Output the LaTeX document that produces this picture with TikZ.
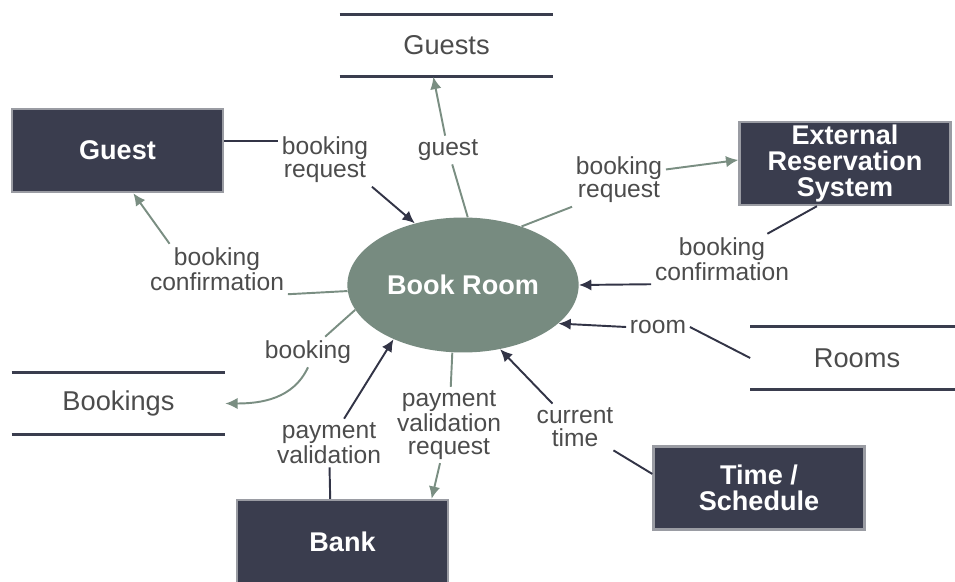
\documentclass[tikz,border=0pt]{standalone}
\usepackage{fontspec}
\setmainfont{Liberation Sans}
\usetikzlibrary{shapes.geometric,arrows.meta}
\definecolor{boxfill}{HTML}{3A3D4E}
\definecolor{boxrim}{HTML}{9A9CA3}
\definecolor{procfill}{HTML}{778B80}
\definecolor{greenflow}{HTML}{7A8E82}
\definecolor{darkflow}{HTML}{323446}
\definecolor{labeltext}{HTML}{4C4C4C}

\begin{document}
\begin{tikzpicture}[x=0.02cm,y=0.02cm,
    entity/.style={rectangle,fill=boxfill,draw=boxrim,line width=1.4pt,
      minimum width=4.22cm,minimum height=1.66cm,inner sep=0pt,align=center,
      text=white,font=\fontsize{15.4}{15}\selectfont\bfseries},
    process/.style={ellipse,fill=procfill,minimum width=3.48cm,minimum height=2.7cm,
      text=white,font=\fontsize{15.4}{15}\selectfont\bfseries},
    store/.style={minimum width=4.26cm,minimum height=1.24cm,inner sep=0pt,
      text=labeltext,font=\fontsize{15.5}{16}\selectfont},
    storeline/.style={draw=boxfill,line width=1.7pt},
    flowlabel/.style={text=labeltext,font=\fontsize{14}{13}\selectfont,align=center,inner sep=2pt},
    inflow/.style={draw=darkflow,line width=1.1pt},
    outflow/.style={draw=greenflow,line width=1.1pt},
    inarrow/.style={inflow,-{Latex[length=7pt,width=6.5pt]}},
    outarrow/.style={outflow,-{Latex[length=7pt,width=6.5pt]}}]
  \useasboundingbox (0,0) rectangle (955,581);

  \node[entity]  (guest)     at (117.5,430.5) {Guest};
  \node[entity]  (extsys)    at (845,417.5)   {External\\Reservation\\System};
  \node[entity]  (bank)      at (342.5,39.5)  {Bank};
  \node[entity]  (timesched) at (759,93)      {Time /\\Schedule};
  \node[process] (bookroom)  at (463,296)     {Book Room};
  \node[store]   (guests)    at (446.5,535.5) {Guests};
  \node[store]   (bookings)  at (118.5,177.5) {Bookings};
  \node[store]   (rooms)     at (857,223)     {Rooms};

  \foreach \s in {guests,bookings,rooms}
    \draw[storeline] (\s.north west) -- (\s.north east) (\s.south west) -- (\s.south east);

  \node[flowlabel] (reqin)      at (325,421) {booking\\request};
  \node[flowlabel] (guestout)   at (448,431) {guest};
  \node[flowlabel] (confout)    at (217,312) {booking\\confirmation};
  \node[flowlabel] (reqout)     at (619,401) {booking\\request};
  \node[flowlabel] (confin)     at (722,322) {booking\\confirmation};
  \node[flowlabel] (roomin)     at (658,254) {room};
  \node[flowlabel] (timein)     at (575,154) {current\\time};
  \node[flowlabel] (payreq)     at (449,156) {payment\\validation\\request};
  \node[flowlabel] (payin)      at (329,138) {payment\\validation};
  \node[flowlabel] (bookingout) at (308,229) {booking};

  \draw[inflow]   (guest.5) -- (guest.5 -| reqin.west);
  \draw[inarrow]  (reqin.south east) -- (bookroom.128);
  \draw[outflow]  (bookroom.86) -- (guestout);
  \draw[outarrow] (guestout) -- ([xshift=-7.5pt]guests.south);
  \draw[outflow]  (bookroom.183) -- (confout.south east);
  \draw[outarrow] ([xshift=-27pt]confout.north) -- ([xshift=9pt]guest.south);
  \draw[outflow]  (bookroom.45) -- (reqout.south west);
  \draw[outarrow] ([yshift=6pt]reqout.east) -- ([yshift=2pt]extsys.west);
  \draw[inflow]   ([xshift=-16pt]extsys.south) -- (confin);
  \draw[inarrow]  (confin.south west) -- (bookroom.east);
  \draw[inflow]   (rooms.west) -- (roomin.east);
  \draw[inarrow]  (roomin.west) -- (bookroom.338);
  \draw[inflow]   ([yshift=8pt]timesched.west) -- (timein);
  \draw[inarrow]  (timein) -- (bookroom.300);
  \draw[outflow]  (bookroom.261) -- (payreq);
  \draw[outarrow] (payreq) -- ([xshift=-10pt]bank.north east);
  \draw[inflow]   ([xshift=-7pt]bank.north) -- (payin);
  \draw[inarrow]  (payin) -- (bookroom.218);
  \draw[outflow]  (bookroom.193) -- (bookingout);
  \draw[outarrow] (bookingout.south) to[out=245,in=0] (bookings.east);
\end{tikzpicture}
\end{document}
